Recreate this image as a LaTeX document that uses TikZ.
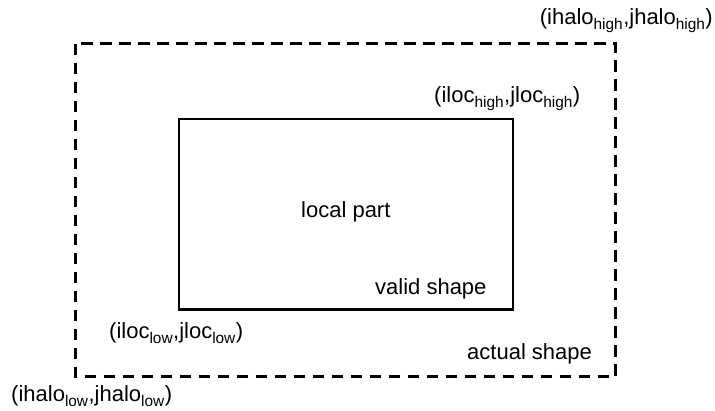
\documentclass[tikz,border=0pt]{standalone}
\usepackage{fontspec}
\setmainfont{Liberation Sans}
\newcommand{\lo}[1]{\textsubscript{#1}}
\begin{document}
\begin{tikzpicture}[x=1pt,y=-1pt,
  lbl/.style={inner sep=0pt,anchor=base west,font=\fontsize{22}{26}\selectfont},
  halo/.style={draw,line width=3pt,dash pattern=on 11.5pt off 7.5pt},
  loc/.style={draw,line width=2.6pt}]
\useasboundingbox (0,0) rectangle (715,411);
% outer halo region and inner local region
\draw[halo] (75.5,44) rectangle (615.5,377);
\draw[loc] (179,119) rectangle (513,309.5);
% corner and region labels
\node[lbl,anchor=base east] (hh) at (713,25) {(ihalo\lo{high},jhalo\lo{high})};
\node[lbl] (lh) at (434,103) {(iloc\lo{high},jloc\lo{high})};
\node[lbl] (lp) at (301,218) {local part};
\node[lbl] (vs) at (375,295) {valid shape};
\node[lbl] (ll) at (109,339) {(iloc\lo{low},jloc\lo{low})};
\node[lbl] (as) at (467,360) {actual shape};
\node[lbl] (hl) at (11,402) {(ihalo\lo{low},jhalo\lo{low})};
\end{tikzpicture}
\end{document}
